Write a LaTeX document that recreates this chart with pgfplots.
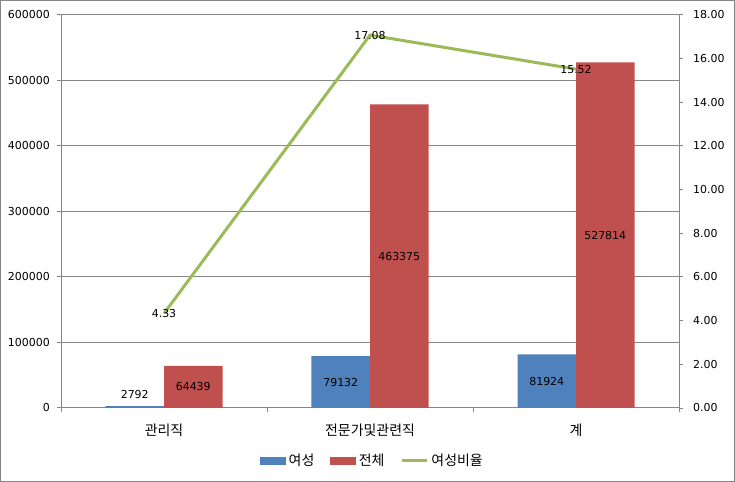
\documentclass[border=0pt]{standalone}
\usepackage{pgfplots}
\pgfplotsset{compat=1.18}
\usepackage{pgfplotstable}
\usepackage{fontspec}
\setmainfont{DejaVu Sans}
\newfontfamily\kr{Noto Sans CJK KR}
\definecolor{yeo}{HTML}{4F81BD}
\definecolor{jeon}{HTML}{C0504D}
\definecolor{rat}{HTML}{9BBB59}
\definecolor{axgray}{HTML}{868686}
\newcommand{\numfont}{\fontsize{11}{12}\selectfont}
\newcommand{\krfont}{\kr\fontsize{14}{15}\selectfont}

% 직업별 여성 / 전체 인원, 여성비율(%)
\pgfplotstableread{
x yeo jeon rat
0 2792 64439 4.33
1 79132 463375 17.08
2 81924 527814 15.52
}\jobs

\begin{document}
\begin{tikzpicture}
\useasboundingbox (0,0) rectangle (735bp,482bp);
\draw[axgray, line width=1bp] (0.5bp,0.5bp) rectangle (734.5bp,481.5bp);
\pgfplotsset{
  base/.style={
    at={(61bp,74bp)}, anchor=south west, scale only axis,
    width=618bp, height=393bp,
    xmin=-0.5, xmax=2.5,
    axis line style={axgray, line width=1bp},
    tick style={axgray, line width=1bp},
    tick align=outside, major tick length=4bp, minor tick length=4bp,
    /pgf/number format/assume math mode=true,
    ticklabel style={font=\numfont, text=black},
    clip=false,
  },
  lbl/.style={draw=none, mark=none, forget plot, nodes near coords,
    point meta=explicit symbolic,
    nodes near coords style={anchor=center, font=\numfont, text=black, inner sep=0pt}},
}
\begin{axis}[base,
  axis x line*=bottom, axis y line*=left,
  ymin=0, ymax=600000, ytick distance=100000, scaled y ticks=false,
  yticklabel style={/pgf/number format/fixed, /pgf/number format/precision=0,
    /pgf/number format/1000 sep={}, inner sep=0pt, xshift=-7bp},
  ymajorgrids, grid style={axgray, line width=1bp},
  xtick={0,1,2}, xticklabels={관리직,전문가및관련직,계},
  major x tick style={draw=none}, minor xtick={-0.5,0.5,1.5,2.5},
  xticklabel style={font=\krfont, inner sep=0pt, anchor=center, yshift=-18bp},
]
\addplot[ybar, bar width=0.284, bar shift=-0.142, fill=yeo, draw=none] table[x=x, y=yeo]{\jobs};
\addplot[ybar, bar width=0.284, bar shift=0.142, fill=jeon, draw=none] table[x=x, y=jeon]{\jobs};
\addplot[lbl] table[x expr=\thisrow{x}-0.142, y expr={max(\thisrow{yeo}/2,20000)}, meta=yeo]{\jobs};
\addplot[lbl] table[x expr=\thisrow{x}+0.142, y expr=\thisrow{jeon}/2, meta=jeon]{\jobs};
\end{axis}
\begin{axis}[base,
  axis x line=none, axis y line*=right,
  ymin=0, ymax=18, ytick distance=2,
  yticklabel style={/pgf/number format/fixed, /pgf/number format/fixed zerofill,
    /pgf/number format/precision=2, inner sep=0pt, xshift=10bp},
  legend columns=-1,
  legend style={at={(0.5025,-0.134)}, anchor=center, draw=none, fill=none,
    font=\krfont, inner sep=0pt, nodes={inner sep=0pt, anchor=west},
    /tikz/every odd column/.append style={column sep=3bp},
    /tikz/every even column/.append style={column sep=16bp}},
]
\addlegendimage{legend image code/.code={\fill[yeo] (0bp,-3.5bp) rectangle (25bp,3.5bp);}}
\addlegendentry{여성}
\addlegendimage{legend image code/.code={\fill[jeon] (0bp,-3.5bp) rectangle (25bp,3.5bp);}}
\addlegendentry{전체}
\addplot[rat, line width=3bp, mark=none,
  legend image code/.code={\draw[rat, line width=3bp] (0bp,0bp) -- (25bp,0bp);},
  nodes near coords, point meta=explicit symbolic,
  nodes near coords style={anchor=center, font=\numfont, text=black, inner sep=0pt}]
  table[x=x, y=rat, meta=rat]{\jobs};
\addlegendentry{여성비율}
\end{axis}
\end{tikzpicture}
\end{document}
